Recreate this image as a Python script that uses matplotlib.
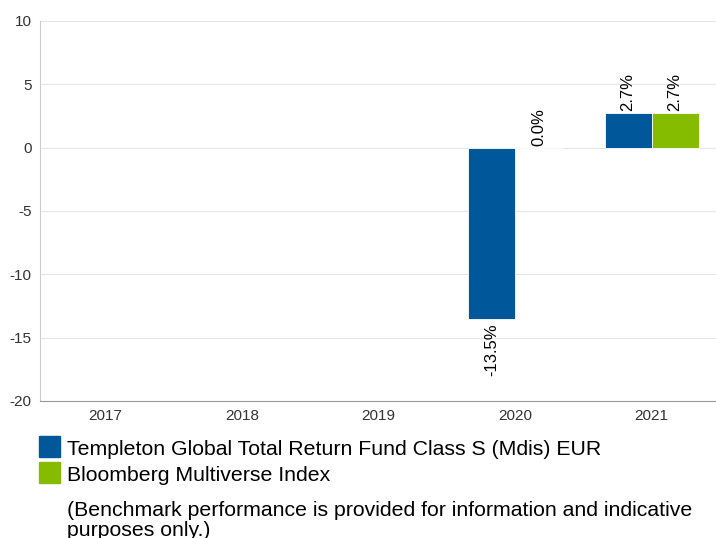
import matplotlib
matplotlib.use("Agg")
import matplotlib.pyplot as plt
import numpy as np

plt.rcParams['font.family'] = ['Liberation Sans', 'DejaVu Sans']

years = ["2017", "2018", "2019", "2020", "2021"]
fund = [None, None, None, -13.5, 2.7]
bench = [None, None, None, 0.0, 2.7]
series_names = ["Templeton Global Total Return Fund Class S (Mdis) EUR",
                "Bloomberg Multiverse Index"]
colors = ["#00589a", "#85bc00"]
yticks = [-20, -15, -10, -5, 0, 5, 10]
note_lines = ["(Benchmark performance is provided for information and indicative",
              "purposes only.)"]

W, H = 716, 538
fig = plt.figure(figsize=(W/100, H/100), dpi=100)
ax = fig.add_axes([40/W, 1-401/H, 676/W, 380/H])

x = np.arange(len(years))
w = 0.344
for si, (vals, col) in enumerate(zip([fund, bench], colors)):
    off = -w/2 if si == 0 else w/2
    for xi, v in zip(x, vals):
        if v is None:
            continue
        ax.bar(xi + off, v, width=w, color=col, edgecolor='white', linewidth=0.6, zorder=3)
        if v >= 0:
            ax.annotate(f"{v:.1f}%", (xi + off, v), xytext=(0, 1.5), textcoords='offset points',
                        rotation=90, ha='center', va='bottom', fontsize=12, color='black')
        else:
            ax.annotate(f"{v:.1f}%", (xi + off, v), xytext=(0, -3.5), textcoords='offset points',
                        rotation=90, ha='center', va='top', fontsize=12, color='black')

ax.set_xlim(-0.48, 4.472)
ax.set_ylim(-20, 10)
ax.set_yticks(yticks)
ax.set_yticklabels([str(t) for t in yticks])
ax.set_xticks(x)
ax.set_xticklabels(years)
ax.grid(axis='y', color='#e6e6e6', linewidth=0.8, zorder=0)
for s in ['top', 'right']:
    ax.spines[s].set_visible(False)
ax.spines['left'].set_color('#cccccc')
ax.spines['bottom'].set_color('#999999')
ax.tick_params(axis='both', length=0, labelsize=11, colors='#333333')
ax.tick_params(axis='y', pad=6)
ax.tick_params(axis='x', pad=6)

# legend
for i, (name, col) in enumerate(zip(series_names, colors)):
    y0 = 436 + i * 26
    fig.patches.append(plt.Rectangle((39/W, 1 - (y0 + 20.5)/H), 21/W, 20.5/H,
                                     transform=fig.transFigure, color=col, figure=fig))
    fig.text(67/W, 1 - (y0 + 19)/H, name, fontsize=15.3, va='baseline', ha='left', color='black')

for i, line in enumerate(note_lines):
    fig.text(67/W, 1 - (516 + 20*i)/H, line, fontsize=15.3, va='baseline', ha='left',
             color='black')

fig.savefig("out.png", dpi=100)
